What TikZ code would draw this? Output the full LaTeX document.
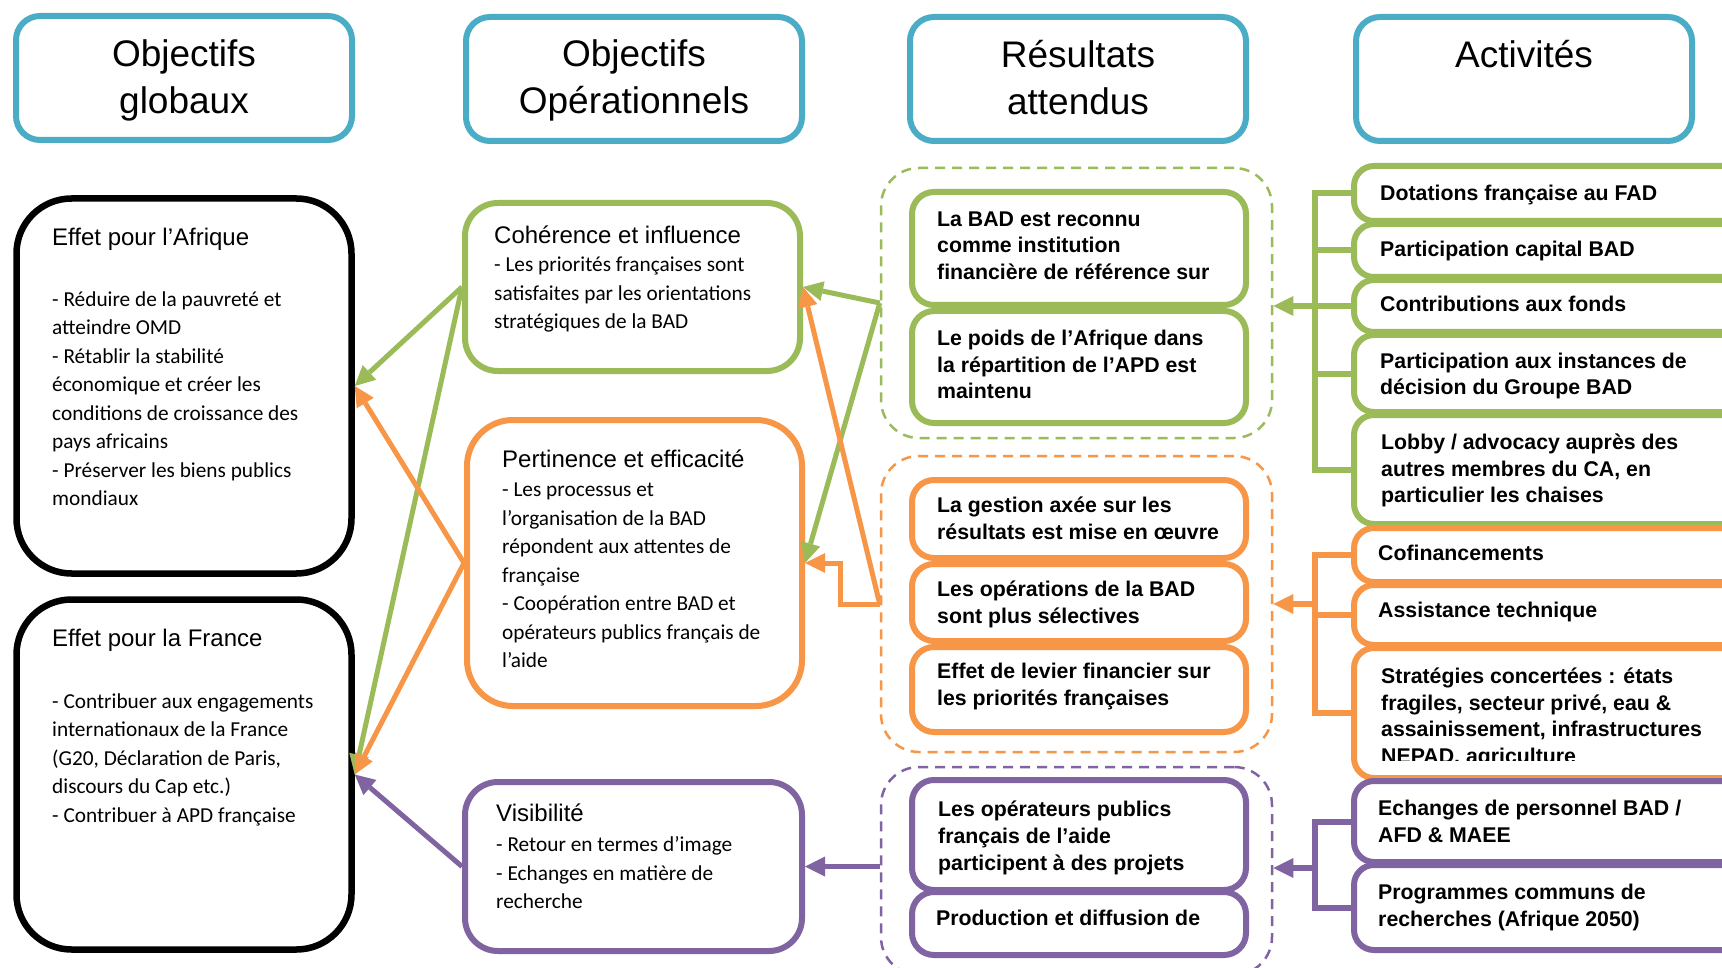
\documentclass[tikz,border=0pt]{standalone}
\usepackage{fontspec}
\setmainfont{Liberation Sans}
\newfontfamily\bodyf{Carlito}
\usetikzlibrary{arrows.meta,calc}
\definecolor{cteal}{HTML}{4BACC6}
\definecolor{cgreen}{HTML}{9BBB59}
\definecolor{corange}{HTML}{F79646}
\definecolor{cpurple}{HTML}{8064A2}
\newcommand{\stH}{\rule{0pt}{32pt}}
\newcommand{\stT}{\rule{0pt}{22pt}}
\newcommand{\stB}{\rule{0pt}{20pt}}
\begin{document}
\begin{tikzpicture}[x=1pt,y=-1pt,
  box/.style={rectangle, fill=white, inner sep=0pt},
  hdr/.style={box, draw=cteal, line width=6pt, rounded corners=24pt, minimum width=336pt, minimum height=124pt},
  blk/.style={box, draw=black, line width=6.5pt, rounded corners=55pt, minimum width=335pt},
  obj/.style={box, line width=6pt},
  grp/.style={rectangle, draw, line width=2.5pt, dash pattern=on 10pt off 7pt, rounded corners=38pt, minimum width=391pt},
  res/.style={box, line width=6pt, rounded corners=22pt, minimum width=334pt},
  act/.style={box, line width=6pt, rounded corners=20pt, minimum width=446pt},
  brk/.style={line width=6pt},
  arrA/.style={line width=5pt, -{Triangle[length=20pt,width=20pt,line width=0pt]}},
  arrB/.style={line width=6pt, -{Triangle[length=20pt,width=20pt,line width=0pt]}},
  tx/.style={anchor=north west, inner sep=0pt, align=left},
  hfont/.style={font=\fontsize{37}{47}\selectfont},
  tfont/.style={font=\fontsize{24}{29}\selectfont},
  bfont/.style={font=\bodyf\fontsize{21.3}{28.5}\selectfont},
  kfont/.style={font=\bfseries\fontsize{21.3}{26.8}\selectfont}
]
\useasboundingbox (0,0) rectangle (1722,968);
\fill[white] (0,0) rectangle (1722,968);
\clip (0,0) rectangle (1722,968);

% ---------- headers ----------
\node[hdr] (h1) at (184,78) {};
\node[hdr] (h2) at (634,79) {};
\node[hdr] (h3) at (1078,79) {};
\node[hdr] (h4) at (1524,79) {};
\node[anchor=north, inner sep=0pt, align=center, hfont] (th1) at (184,34) {\stH Objectifs\\globaux};
\node[anchor=north, inner sep=0pt, align=center, hfont] (th2) at (634,34) {\stH Objectifs\\Opérationnels};
\node[anchor=north, inner sep=0pt, align=center, hfont] (th3) at (1078,35) {\stH Résultats\\attendus};
\node[anchor=north, inner sep=0pt, align=center, hfont] (th4) at (1524,35) {\stH Activités};

% ---------- column 4 bracket junctions ----------
\coordinate (gb) at (1315,306);
\coordinate (ob) at (1315,604);
\coordinate (pb) at (1315,868);

% ---------- column 1 ----------
\node[blk, minimum height=375pt] (afr) at (184,386) {};
\node[blk, minimum height=350pt] (fra) at (184,774.5) {};

% ---------- column 2 ----------
\node[obj, draw=cgreen, rounded corners=33pt, minimum width=335pt, minimum height=168pt] (coh) at (632.5,287) {};
\node[obj, draw=corange, rounded corners=46pt, minimum width=335pt, minimum height=286pt] (per) at (634.5,563) {};
\node[obj, draw=cpurple, rounded corners=33pt, minimum width=337pt, minimum height=169pt] (vis) at (633.5,866.5) {};

% ---------- column 3 ----------
\node[grp, draw=cgreen, minimum height=270pt] (gg) at (1076.5,303) {};
\node[grp, draw=corange, minimum height=296pt] (og) at (1076.5,604) {};
\node[grp, draw=cpurple, minimum height=208pt] (pg) at (1076.5,871) {};
\node[res, draw=cgreen, minimum height=113pt] (i1) at (1079,248.5) {};
\node[res, draw=cgreen, minimum height=112pt] (i2) at (1079,367) {};
\node[res, draw=corange, minimum height=78pt] (o1) at (1079,519) {};
\node[res, draw=corange, minimum height=77pt] (o2) at (1079,602.5) {};
\node[res, draw=corange, minimum height=85pt] (o3) at (1079,689.5) {};
\node[res, draw=cpurple, minimum height=110pt] (p1) at (1079,835) {};
\node[res, draw=cpurple, minimum height=63pt] (p2) at (1079,923.5) {};

% ---------- column 4 ----------
\node[act, draw=cgreen, minimum height=55pt] (g1) at (1577,193.5) {};
\node[act, draw=cgreen, minimum height=53pt] (g2) at (1577,250.5) {};
\node[act, draw=cgreen, minimum height=52pt] (g3) at (1577,306) {};
\node[act, draw=cgreen, minimum height=77pt] (g4) at (1577,373.5) {};
\node[act, draw=cgreen, minimum height=109pt] (g5) at (1577,469.5) {};
\node[act, draw=corange, minimum height=54pt] (a1) at (1577,555) {};
\node[act, draw=corange, minimum height=60pt] (a2) at (1577,615) {};
\node[act, draw=corange, minimum height=130pt] (a3) at (1577,713) {};
\node[act, draw=cpurple, minimum height=81pt] (b1) at (1577,821.5) {};
\node[act, draw=cpurple, minimum height=85pt] (b2) at (1577,907.5) {};

% brackets
\draw[brk, cgreen] (g1.west) -| (gb) |- (g5.west);
\draw[brk, cgreen] (g2.west) -- (g2.west -| gb);
\draw[brk, cgreen] (g3.west) -- (g3.west -| gb);
\draw[brk, cgreen] (g4.west) -- (g4.west -| gb);
\draw[brk, corange] (a1.west) -| (ob) |- (a3.west);
\draw[brk, corange] (a2.west) -- (a2.west -| ob);
\draw[brk, cpurple] (b1.west) -| (pb) |- (b2.west);
\draw[arrB, cgreen] (gb) -- (gb -| gg.east);
\draw[arrB, corange] (ob) -- (ob -| og.east);
\draw[arrB, cpurple] (pb) -- (pb -| pg.east);

% ---------- column 3 -> column 2 ----------
\draw[arrA, cgreen] (gg.west) -- (coh.east);
\draw[arrA, cgreen] (gg.west) -- (per.east);
\draw[arrA, corange] (og.west) -- (coh.east);
\draw[arrA, corange] (og.west) -- ++(-39,0) |- (per.east);
\draw[arrA, cpurple] (vis.east -| pg.west) -- (vis.east);

% ---------- column 2 -> column 1 ----------
\draw[arrA, cgreen] (coh.west) -- (afr.east);
\draw[arrA, cgreen] (coh.west) -- (fra.east);
\draw[arrA, corange] (per.west) -- (afr.east);
\draw[arrA, corange] (per.west) -- (fra.east);
\draw[arrA, cpurple] (vis.west) -- (fra.east);

% ---------- texts column 1 ----------
\node[tx, tfont] (tafr) at (52,223) {\stT Effet pour l’Afrique};
\node[tx, bfont] (bafr) at (52,286) {\stB - Réduire de la pauvreté et\\atteindre OMD\\- Rétablir la stabilité\\économique et créer les\\conditions de croissance des\\pays africains\\- Préserver les biens publics\\mondiaux};
\node[tx, tfont] (tfra) at (52,624.7) {\stT Effet pour la France};
\node[tx, bfont] (bfra) at (52,688) {\stB - Contribuer aux engagements\\internationaux de la France\\(G20, Déclaration de Paris,\\discours du Cap etc.)\\- Contribuer à APD française};

% ---------- texts column 2 ----------
\node[tx, tfont] (tcoh) at (494,221.3) {\stT Cohérence et influence};
\node[tx, bfont] (bcoh) at (494,251.7) {\stB - Les priorités françaises sont\\satisfaites par les orientations\\stratégiques de la BAD};
\node[tx, tfont] (tper) at (502,445.3) {\stT Pertinence et efficacité};
\node[tx, bfont] (bper) at (502,476.7) {\stB - Les processus et\\l’organisation de la BAD\\répondent aux attentes de\\française\\- Coopération entre BAD et\\opérateurs publics français de\\l’aide};
\node[tx, tfont] (tvis) at (496,799.7) {\stT Visibilité};
\node[tx, bfont] (bvis) at (496,831.7) {\stB - Retour en termes d’image\\- Echanges en matière de\\recherche};

% ---------- texts column 3 ----------
\node[tx, kfont] (ti1) at (937,206) {\stB La BAD est reconnu\\comme institution\\financière de référence sur};
\node[tx, kfont] (ti2) at (937,325) {\stB Le poids de l’Afrique dans\\la répartition de l’APD est\\maintenu};
\node[tx, kfont] (to1) at (937,492) {\stB La gestion axée sur les\\résultats est mise en œuvre};
\node[tx, kfont] (to2) at (937,576.7) {\stB Les opérations de la BAD\\sont plus sélectives};
\node[tx, kfont] (to3) at (937,658) {\stB Effet de levier financier sur\\les priorités françaises};
\node[tx, kfont] (tp1) at (938,796.7) {\stB Les opérateurs publics\\français de l’aide\\participent à des projets};
\node[tx, kfont] (tp2) at (936,905) {\stB Production et diffusion de};

% ---------- texts column 4 ----------
\node[tx, kfont] (tg1) at (1380,180) {\stB Dotations française au FAD};
\node[tx, kfont] (tg2) at (1380,236.7) {\stB Participation capital BAD};
\node[tx, kfont] (tg3) at (1380,291.7) {\stB Contributions aux fonds};
\node[tx, kfont] (tg4) at (1380,348) {\stB Participation aux instances de\\décision du Groupe BAD};
\node[tx, kfont] (tg5) at (1381,429) {\stB Lobby / advocacy auprès des\\autres membres du CA, en\\particulier les chaises};
\node[tx, kfont] (ta1) at (1378,540) {\stB Cofinancements};
\node[tx, kfont] (ta2) at (1378,597) {\stB Assistance technique};
\begin{scope}
\clip (1354,640) rectangle (1722,760.5);
\node[tx, kfont] (ta3) at (1381,663) {\stB Stratégies concertées : états\\fragiles, secteur privé, eau \&\\assainissement, infrastructures\\NEPAD, agriculture};
\end{scope}
\node[tx, kfont] (tb1) at (1378,795) {\stB Echanges de personnel BAD /\\AFD \& MAEE};
\node[tx, kfont] (tb2) at (1378,879) {\stB Programmes communs de\\recherches (Afrique 2050)};
\end{tikzpicture}
\end{document}
